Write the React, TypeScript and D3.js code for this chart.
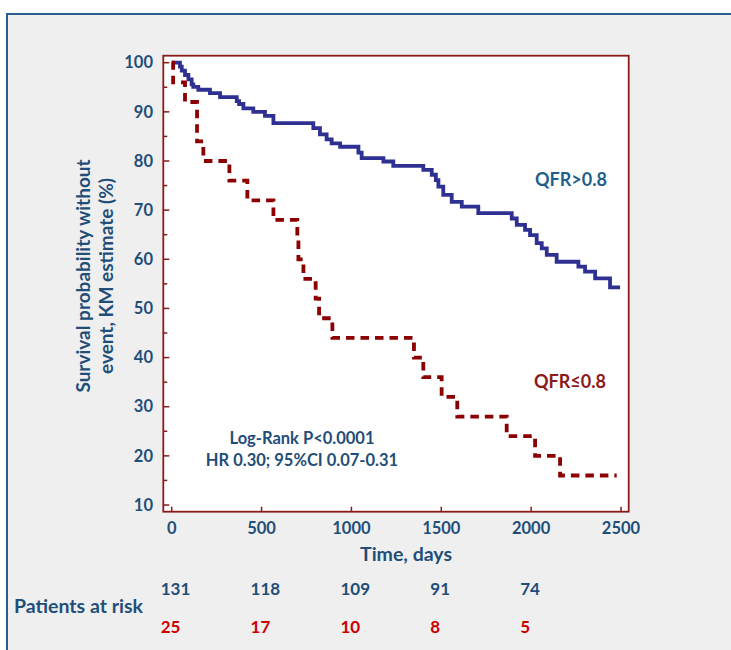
import * as d3 from 'd3';
import React from 'react';

// Kaplan-Meier steps: [day, survival %]
const qfrHigh: [number, number][] = [
  [0, 100], [46, 99.2], [56, 98.4], [74, 97.5], [93, 96.6], [111, 95.6], [120, 95.1],
  [148, 94.5], [213, 93.8], [269, 93.0], [362, 92.2], [375, 91.6], [399, 90.7],
  [454, 90.0], [519, 89.2], [566, 87.7], [788, 86.7], [825, 85.4], [862, 84.4],
  [890, 83.6], [937, 82.9], [1039, 81.7], [1057, 80.6], [1178, 79.9], [1233, 79.0],
  [1400, 78.2], [1447, 77.2], [1470, 76.1], [1484, 74.8], [1511, 73.1], [1558, 71.7],
  [1614, 70.7], [1706, 69.4], [1892, 68.3], [1920, 67.0], [1966, 66.0], [1994, 64.9],
  [2031, 63.3], [2059, 62.2], [2087, 60.9], [2142, 59.5], [2263, 58.5], [2300, 57.5],
  [2356, 56.1], [2439, 54.3], [2495, 54.3],
];

const qfrLow: [number, number][] = [
  [0, 100], [8, 96], [74, 92], [141, 84], [176, 80], [321, 76], [421, 72], [566, 68],
  [699, 64], [705, 60], [733, 56], [801, 52], [820, 48], [894, 44], [1348, 40],
  [1400, 36], [1502, 32], [1589, 28], [1864, 24], [2022, 20], [2161, 16], [2476, 16],
];

const xTicks = [0, 500, 1000, 1500, 2000, 2500];
const yTicks = [10, 20, 30, 40, 50, 60, 70, 80, 90, 100];
const yMinor = [15, 25, 35, 45, 55, 65, 75, 85, 95];

const riskDays = [0, 500, 1000, 1500, 2000];
const riskHigh = [131, 118, 109, 91, 74];
const riskLow = [25, 17, 10, 8, 5];

const BLUE_TXT = '#1f4e79';
const BOX = '#8b1a1a';
const FONT = 'Lato, "DejaVu Sans", sans-serif';

export default function App() {
  const W = 731, H = 650;
  const box = { left: 163.3, top: 55.7, right: 628.7, bottom: 511.7 };

  const x = d3.scaleLinear().domain([0, 2500]).range([171.7, 621]);
  const y = d3.scaleLinear().domain([10, 100]).range([505, 62.7]);

  const line = d3.line<[number, number]>()
    .x(d => x(d[0]))
    .y(d => y(d[1]))
    .curve(d3.curveStepAfter);

  return (
    <div style={{ position: 'absolute', left: 0, top: 0 }}>
      <svg width={W} height={H} style={{ display: 'block', fontFamily: FONT }}>
        <rect x={0} y={0} width={W} height={H} fill="#ffffff" />
        <rect x={7} y={14} width={W + 20} height={H + 20} fill="#efefef" stroke="#2c5d8c" strokeWidth={2} />

        {/* plot frame */}
        <rect x={box.left} y={box.top} width={box.right - box.left} height={box.bottom - box.top}
          fill="#ffffff" stroke={BOX} strokeWidth={1.8} />

        {/* y ticks */}
        {yTicks.map(t => (
          <g key={'y' + t}>
            <line x1={box.left} x2={box.left + 6} y1={y(t)} y2={y(t)} stroke={BOX} strokeWidth={1.5} />
            <text x={153} y={y(t)} dy="0.35em" textAnchor="end" fontSize={16.5} fontWeight={700} fill={BLUE_TXT}>{t}</text>
          </g>
        ))}
        {yMinor.map(t => (
          <line key={'m' + t} x1={box.left} x2={box.left + 4} y1={y(t)} y2={y(t)} stroke={BOX} strokeWidth={1.5} />
        ))}

        {/* x ticks */}
        {xTicks.map(t => (
          <g key={'x' + t}>
            <line x1={x(t)} x2={x(t)} y1={box.bottom} y2={box.bottom - 5} stroke={BOX} strokeWidth={1.5} />
            <text x={x(t)} y={528.5} dy="0.35em" textAnchor="middle" fontSize={16.5} fontWeight={700} fill={BLUE_TXT}>{t}</text>
          </g>
        ))}

        {/* curves */}
        <path d={line(qfrHigh) || ''} fill="none" stroke="#2e3192" strokeWidth={3.8} strokeLinejoin="miter" />
        <path d={line(qfrLow) || ''} fill="none" stroke="#8b0000" strokeWidth={3.8} strokeDasharray="8.5 6" />

        {/* labels inside plot */}
        <text x={571} y={180} dy="0.35em" textAnchor="middle" fontSize={18} fontWeight={700} fill="#1f5f8b">QFR&gt;0.8</text>
        <text x={570} y={382} dy="0.35em" textAnchor="middle" fontSize={18} fontWeight={700} fill={BOX}>QFR≤0.8</text>
        <text x={302} y={438.3} dy="0.35em" textAnchor="middle" fontSize={16.5} fontWeight={700} fill={BLUE_TXT}>Log-Rank P&lt;0.0001</text>
        <text x={302} y={460} dy="0.35em" textAnchor="middle" fontSize={16.5} fontWeight={700} fill={BLUE_TXT}>HR 0.30; 95%CI 0.07-0.31</text>

        {/* axis titles */}
        <text x={406} y={554} dy="0.35em" textAnchor="middle" fontSize={19.5} fontWeight={700} fill={BLUE_TXT}>Time, days</text>
        <g transform="translate(83.5,276) rotate(-90)">
          <text x={0} y={0} dy="0.35em" textAnchor="middle" fontSize={19} fontWeight={700} fill={BLUE_TXT}>Survival probability without</text>
        </g>
        <g transform="translate(106.5,276) rotate(-90)">
          <text x={0} y={0} dy="0.35em" textAnchor="middle" fontSize={19} fontWeight={700} fill={BLUE_TXT}>event, KM estimate (%)</text>
        </g>

        {/* patients at risk */}
        <text x={14} y={606} dy="0.35em" fontSize={19.5} fontWeight={700} fill={BLUE_TXT}>Patients at risk</text>
        {riskDays.map((d, i) => (
          <g key={'r' + d}>
            <text x={x(d) - 11} y={589} dy="0.35em" fontSize={17} fontWeight={700} fill={BLUE_TXT}>{riskHigh[i]}</text>
            <text x={x(d) - 11} y={627} dy="0.35em" fontSize={17} fontWeight={700} fill="#cc0000">{riskLow[i]}</text>
          </g>
        ))}
      </svg>
    </div>
  );
}
